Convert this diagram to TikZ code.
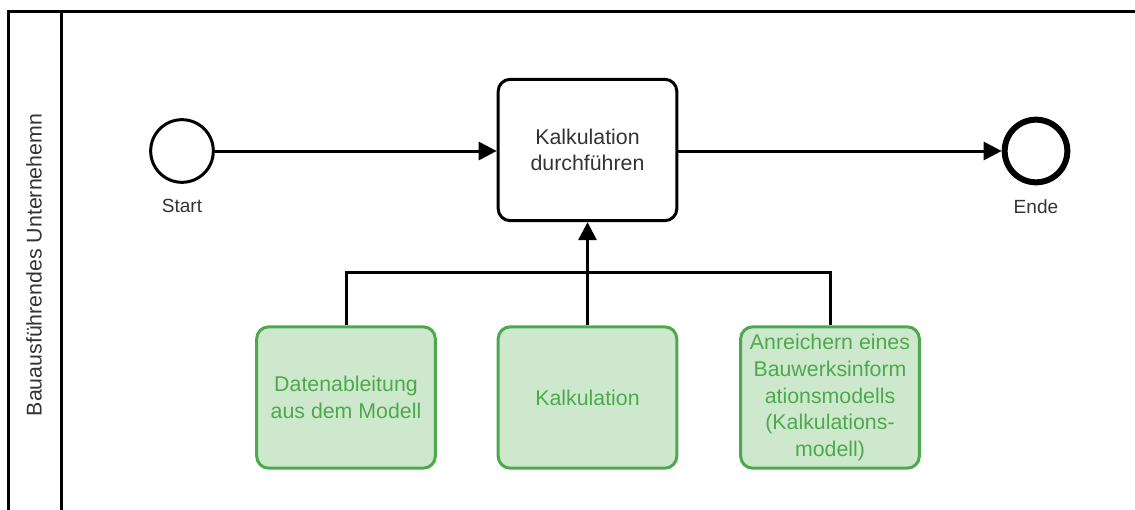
\documentclass[tikz,border=0pt]{standalone}
\usepackage{fontspec}
\setmainfont{Liberation Sans}
\usetikzlibrary{arrows.meta}
\definecolor{gfill}{HTML}{CDE8CD}
\definecolor{gdraw}{HTML}{4EA84E}
\definecolor{gtext}{HTML}{4CAA4C}
\definecolor{txt}{HTML}{333333}
\tikzset{
  lw/.style={line width=2.25pt},
  task/.style={draw=black, lw, rounded corners=9pt, minimum width=134pt, minimum height=106pt, inner sep=0pt, align=center, text=txt, font=\fontsize{16}{20}\selectfont},
  gbox/.style={task, draw=gdraw, fill=gfill, text=gtext},
  evt/.style={circle, draw=black, lw, minimum size=47pt, inner sep=0pt},
  lbl/.style={text=txt, font=\fontsize{14.3}{17}\selectfont, inner sep=0pt},
  flow/.style={draw=black, lw, -{Triangle[length=13.5pt,width=13.5pt]}},
  conn/.style={draw=black, lw}
}
\begin{document}
\begin{tikzpicture}[x=0.75pt,y=-0.75pt]
\useasboundingbox (0,0) rectangle (1135,510);
\begin{scope}
\clip (0,0) rectangle (1135,510);
\draw[lw] (8,12) rectangle (1145,520);
\draw[lw] (61,12) -- (61,520);
\end{scope}
\node[rotate=90, text=txt, font=\fontsize{16}{18}\selectfont, inner sep=0pt] (lane) at (34,265) {Bauausführendes Unternehemn};

\node[evt] (start) at (182,151) {};
\node[lbl] (startl) at (182,206) {Start};
\node[task] (t) at (587.5,150) {Kalkulation\\durchführen};
\node[evt, line width=4.5pt] (end) at (1036,151) {};
\node[lbl] (endl) at (1036,207) {Ende};

\node[gbox] (b1) at (346,397.5) {Datenableitung\\aus dem Modell};
\node[gbox] (b2) at (587.5,397.5) {Kalkulation};
\node[gbox] (b3) at (830,397.5) {Anreichern eines\\Bauwerksinform\\ationsmodells\\(Kalkulations-\\modell)};

\draw[flow] (start) -- (t.west |- start);
\draw[flow] (t.east |- end) -- (end);
\coordinate (j) at (587.5,272);
\draw[conn] (b1.north) |- (j) -| (b3.north);
\draw[flow] (b2.north) -- (t.south);
\end{tikzpicture}
\end{document}
